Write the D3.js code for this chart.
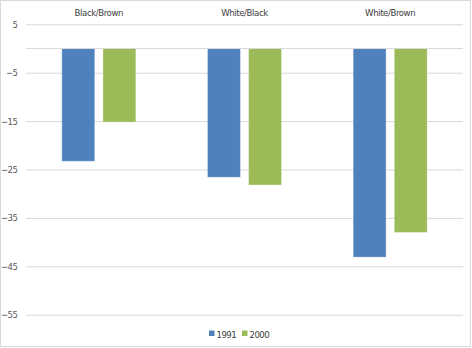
<!DOCTYPE html>
<html>
<head>
<meta charset="utf-8">
<script src="https://cdn.jsdelivr.net/npm/d3@7"></script>
<style>
  body { margin: 0; background: #fff; }
  text { font-family: "Liberation Sans Narrow", "DejaVu Sans Condensed", sans-serif; fill: #595959; }
</style>
</head>
<body>
<div id="chart"></div>
<script>
// chart data
const categories = ["Black/Brown", "White/Black", "White/Brown"];
const seriesNames = ["1991", "2000"];
const values1991 = [-23.3, -26.6, -43.1];
const values2000 = [-15.2, -28.2, -38.0];
const yTicks = [5, -5, -15, -25, -35, -45, -55];

const colors = ["#4F81BD", "#9BBB59"];
let width = 472, height = 348;
let plotLeft = 26, plotRight = 463;

const svg = d3.select("#chart")
    .append("svg")
    .attr("width", width)
    .attr("height", height);

// outer chart border
svg.append("rect")
    .attr("x", 0.5).attr("y", 0.5)
    .attr("width", 470).attr("height", 346)
    .attr("fill", "#fff")
    .attr("stroke", "#d9d9d9");

const y = d3.scaleLinear()
    .domain([-55, 5])
    .range([314.7, 24.3]);

const x = d3.scaleBand()
    .domain(categories)
    .range([plotLeft, plotRight]);

const xInner = d3.scaleBand()
    .domain(seriesNames)
    .range([x.bandwidth() / 2 - 37, x.bandwidth() / 2 + 37])
    .paddingInner(0.2);

// gridlines + tick labels
const yAxis = svg.append("g")
    .attr("transform", `translate(${plotLeft},0)`)
    .call(d3.axisLeft(y)
        .tickValues(yTicks)
        .tickSize(-(plotRight - plotLeft))
        .tickPadding(8.5)
        .tickFormat(d3.format("d")));
yAxis.select(".domain").remove();
yAxis.selectAll(".tick line").attr("stroke", "#d9d9d9");
yAxis.selectAll(".tick text")
    .attr("font-size", 9.5)
    .attr("letter-spacing", -0.5)
    .style("font-family", "'Liberation Sans Narrow', 'DejaVu Sans Condensed', sans-serif")
    .attr("fill", "#595959");

// bars
const rows = categories.map((c, i) => ({cat: c, vals: [values1991[i], values2000[i]]}));
const groups = svg.selectAll(".group")
    .data(rows)
    .enter()
    .append("g")
    .attr("class", "group")
    .attr("transform", d => `translate(${x(d.cat)},0)`);

groups.selectAll("rect")
    .data(d => d.vals.map((v, i) => ({name: seriesNames[i], v: v, i: i})))
    .enter()
    .append("rect")
    .attr("x", d => xInner(d.name))
    .attr("width", xInner.bandwidth())
    .attr("y", d => y(Math.max(0, d.v)))
    .attr("height", d => Math.abs(y(d.v) - y(0)))
    .attr("fill", d => colors[d.i])
    .attr("stroke", "rgba(255,255,255,0.3)")
    .attr("stroke-width", 1);

// category axis line at zero
svg.append("line")
    .attr("x1", plotLeft).attr("x2", plotRight)
    .attr("y1", y(0)).attr("y2", y(0))
    .attr("stroke", "#d9d9d9");

// category labels along the top
svg.selectAll(".cat")
    .data(categories)
    .enter()
    .append("text")
    .attr("class", "cat")
    .attr("x", d => x(d) + x.bandwidth() / 2)
    .attr("y", 16)
    .attr("text-anchor", "middle")
    .attr("font-size", 9.5)
    .attr("letter-spacing", -0.4)
    .style("fill", "#404040")
    .text(d => d);

// legend
const legend = svg.append("g").attr("transform", "translate(209,0)");
const legendX = [0, 33];
seriesNames.forEach((s, i) => {
    legend.append("rect")
        .attr("x", legendX[i]).attr("y", 330.5)
        .attr("width", 5.5).attr("height", 5.5)
        .attr("fill", colors[i]);
    legend.append("text")
        .attr("x", legendX[i] + 7.5)
        .attr("y", 337.5)
        .attr("font-size", 9.5)
        .attr("letter-spacing", -0.5)
        .style("fill", "#404040")
        .text(s);
});
</script>
</body>
</html>
